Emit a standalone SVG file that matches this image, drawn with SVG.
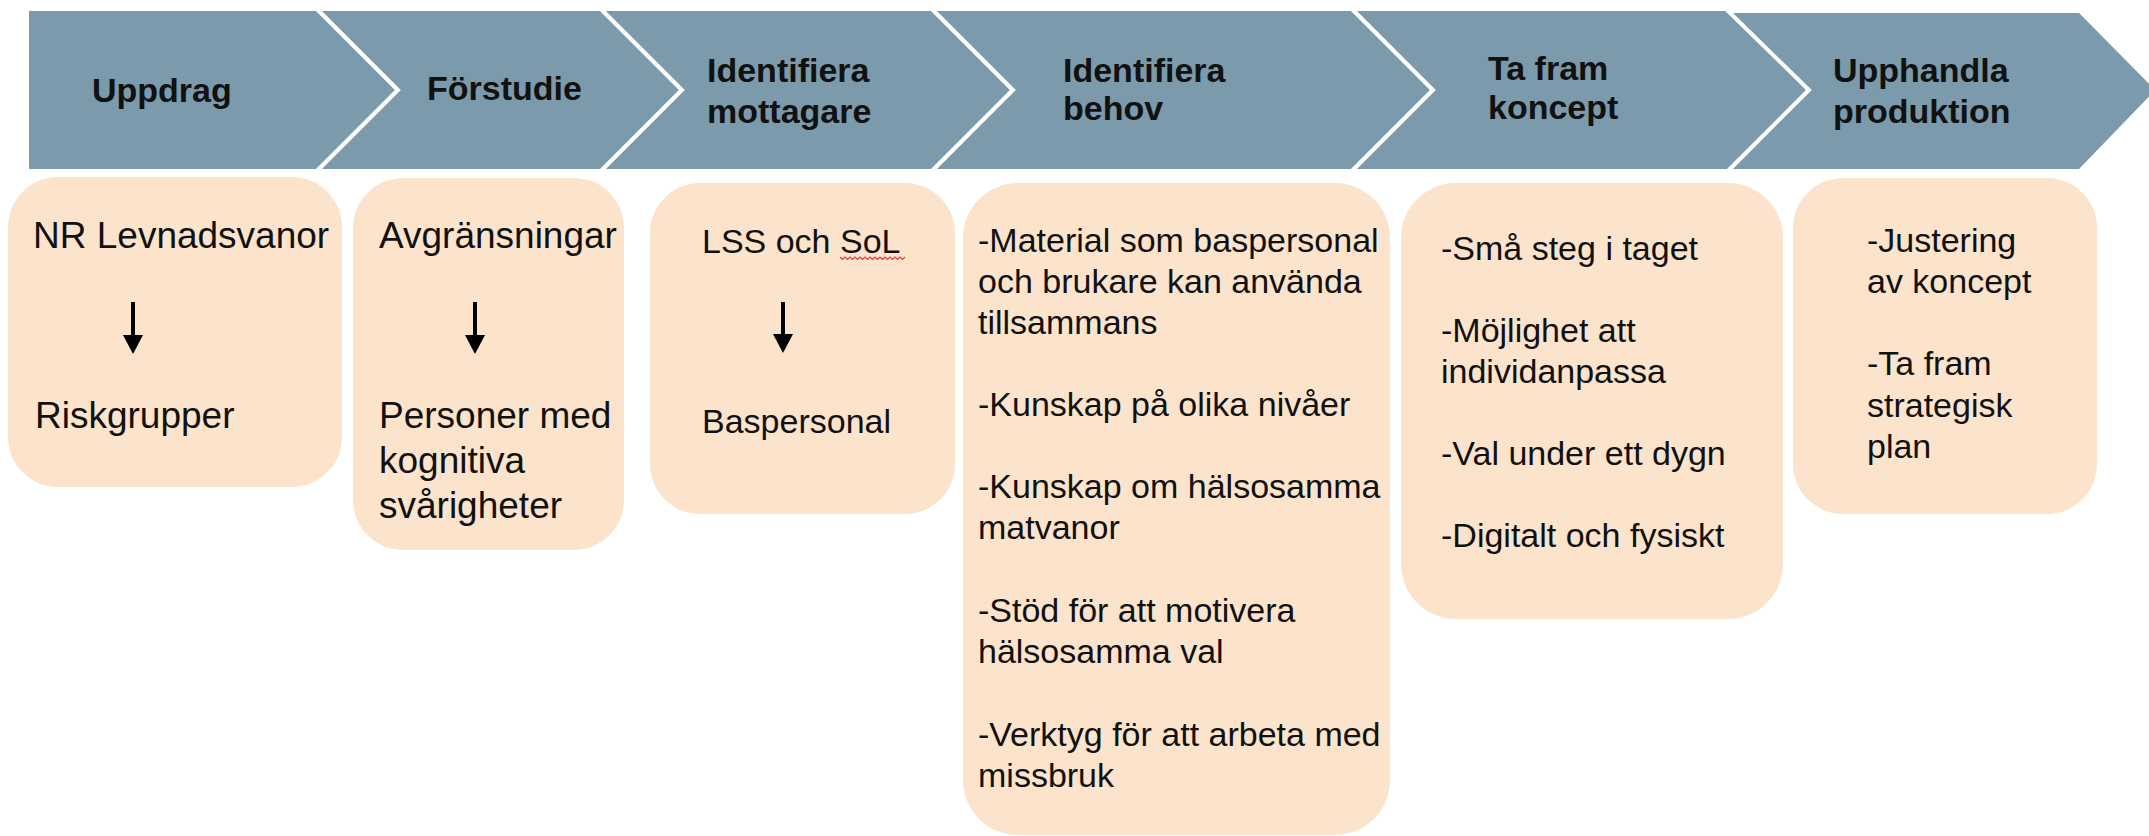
<svg xmlns="http://www.w3.org/2000/svg" width="2149" height="836" viewBox="0 0 2149 836">
<style>
.chev{fill:#7b9aab;stroke:#ffffff;stroke-width:4;stroke-linejoin:miter}
.box{fill:#fbe4cb}
.ht{font-family:"Liberation Sans",Arial,sans-serif;font-weight:bold;font-size:34px;fill:#111}
.t37{font-family:"Liberation Sans",Arial,sans-serif;font-size:37px;fill:#111}
.t34{font-family:"Liberation Sans",Arial,sans-serif;font-size:34px;fill:#111}
.arr{stroke:#000;stroke-width:4;fill:none}
</style>
<defs>
<marker id="ah" markerUnits="userSpaceOnUse" viewBox="0 -10 19 20" refX="0" refY="0" markerWidth="19" markerHeight="20" orient="auto">
<path d="M0,-10 L19,0 L0,10 z" fill="#000"/>
</marker>
</defs>
<rect width="2149" height="836" fill="#ffffff"/>
<g id="step-uppdrag">
<polygon class="chev" points="27,9 317,9 398,90 317,171 27,171"/>
<text class="ht" x="92" y="102">Uppdrag</text>
</g>
<g id="step-forstudie">
<polygon class="chev" points="317,9 601,9 682,90 601,171 317,171 398,90"/>
<text class="ht" x="427" y="100">Förstudie</text>
</g>
<g id="step-identifiera-mottagare">
<polygon class="chev" points="601,9 932,9 1013,90 932,171 601,171 682,90"/>
<text class="ht" x="707" y="82">Identifiera</text>
<text class="ht" x="707" y="123">mottagare</text>
</g>
<g id="step-identifiera-behov">
<polygon class="chev" points="932,9 1352,9 1433,90 1352,171 932,171 1013,90"/>
<text class="ht" x="1063" y="82">Identifiera</text>
<text class="ht" x="1063" y="120">behov</text>
</g>
<g id="step-ta-fram-koncept">
<polygon class="chev" points="1352,9 1728,9 1809,90 1728,171 1352,171 1433,90"/>
<text class="ht" x="1488" y="80">Ta fram</text>
<text class="ht" x="1488" y="119">koncept</text>
</g>
<g id="step-upphandla-produktion">
<polygon class="chev" points="1728,11 2080,11 2158,90 2080,171 1728,171 1809,90"/>
<text class="ht" x="1833" y="82">Upphandla</text>
<text class="ht" x="1833" y="123">produktion</text>
</g>

<g id="box-uppdrag">
<rect class="box" x="8" y="177" width="334" height="310" rx="50" ry="50"/>
<text class="t37" x="33" y="248">NR Levnadsvanor</text>
<text class="t37" x="35" y="428">Riskgrupper</text>
</g>
<g id="box-forstudie">
<rect class="box" x="353" y="178" width="271" height="372" rx="50" ry="50"/>
<text class="t37" x="379" y="248">Avgränsningar</text>
<text class="t37" x="379" y="428">Personer med</text>
<text class="t37" x="379" y="473">kognitiva</text>
<text class="t37" x="379" y="518">svårigheter</text>
</g>
<g id="box-mottagare">
<rect class="box" x="650" y="183" width="305" height="331" rx="50" ry="50"/>
<text class="t34" x="702" y="253">LSS och SoL</text>
<path d="M840,257 l2.5,2.5 l2.5,-2.5 l2.5,2.5 l2.5,-2.5 l2.5,2.5 l2.5,-2.5 l2.5,2.5 l2.5,-2.5 l2.5,2.5 l2.5,-2.5 l2.5,2.5 l2.5,-2.5 l2.5,2.5 l2.5,-2.5 l2.5,2.5 l2.5,-2.5 l2.5,2.5 l2.5,-2.5 l2.5,2.5 l2.5,-2.5 l2.5,2.5 l2.5,-2.5 l2.5,2.5 l2.5,-2.5 l2.5,2.5 l2.5,-2.5" fill="none" stroke="#e8403a" stroke-width="1.2"/>
<text class="t34" x="702" y="433">Baspersonal</text>
</g>
<g id="box-behov">
<rect class="box" x="963" y="183" width="427" height="652" rx="55" ry="55"/>
<text class="t34" x="978" y="252">-Material som baspersonal</text>
<text class="t34" x="978" y="293">och brukare kan använda</text>
<text class="t34" x="978" y="334">tillsammans</text>
<text class="t34" x="978" y="416">-Kunskap på olika nivåer</text>
<text class="t34" x="978" y="498">-Kunskap om hälsosamma</text>
<text class="t34" x="978" y="539">matvanor</text>
<text class="t34" x="978" y="622">-Stöd för att motivera</text>
<text class="t34" x="978" y="663">hälsosamma val</text>
<text class="t34" x="978" y="746">-Verktyg för att arbeta med</text>
<text class="t34" x="978" y="787">missbruk</text>
</g>
<g id="box-koncept">
<rect class="box" x="1401" y="183" width="382" height="436" rx="55" ry="55"/>
<text class="t34" x="1441" y="260">-Små steg i taget</text>
<text class="t34" x="1441" y="342">-Möjlighet att</text>
<text class="t34" x="1441" y="383">individanpassa</text>
<text class="t34" x="1441" y="465">-Val under ett dygn</text>
<text class="t34" x="1441" y="547">-Digitalt och fysiskt</text>
</g>
<g id="box-produktion">
<rect class="box" x="1793" y="178" width="304" height="336" rx="50" ry="50"/>
<text class="t34" x="1867" y="252">-Justering</text>
<text class="t34" x="1867" y="293">av koncept</text>
<text class="t34" x="1867" y="375">-Ta fram</text>
<text class="t34" x="1867" y="417">strategisk</text>
<text class="t34" x="1867" y="458">plan</text>
</g>

<g id="connectors">
<line class="arr" x1="133" y1="302" x2="133" y2="335" marker-end="url(#ah)"/>
<line class="arr" x1="475" y1="302" x2="475" y2="335" marker-end="url(#ah)"/>
<line class="arr" x1="783" y1="302" x2="783" y2="334" marker-end="url(#ah)"/>
</g>
</svg>
